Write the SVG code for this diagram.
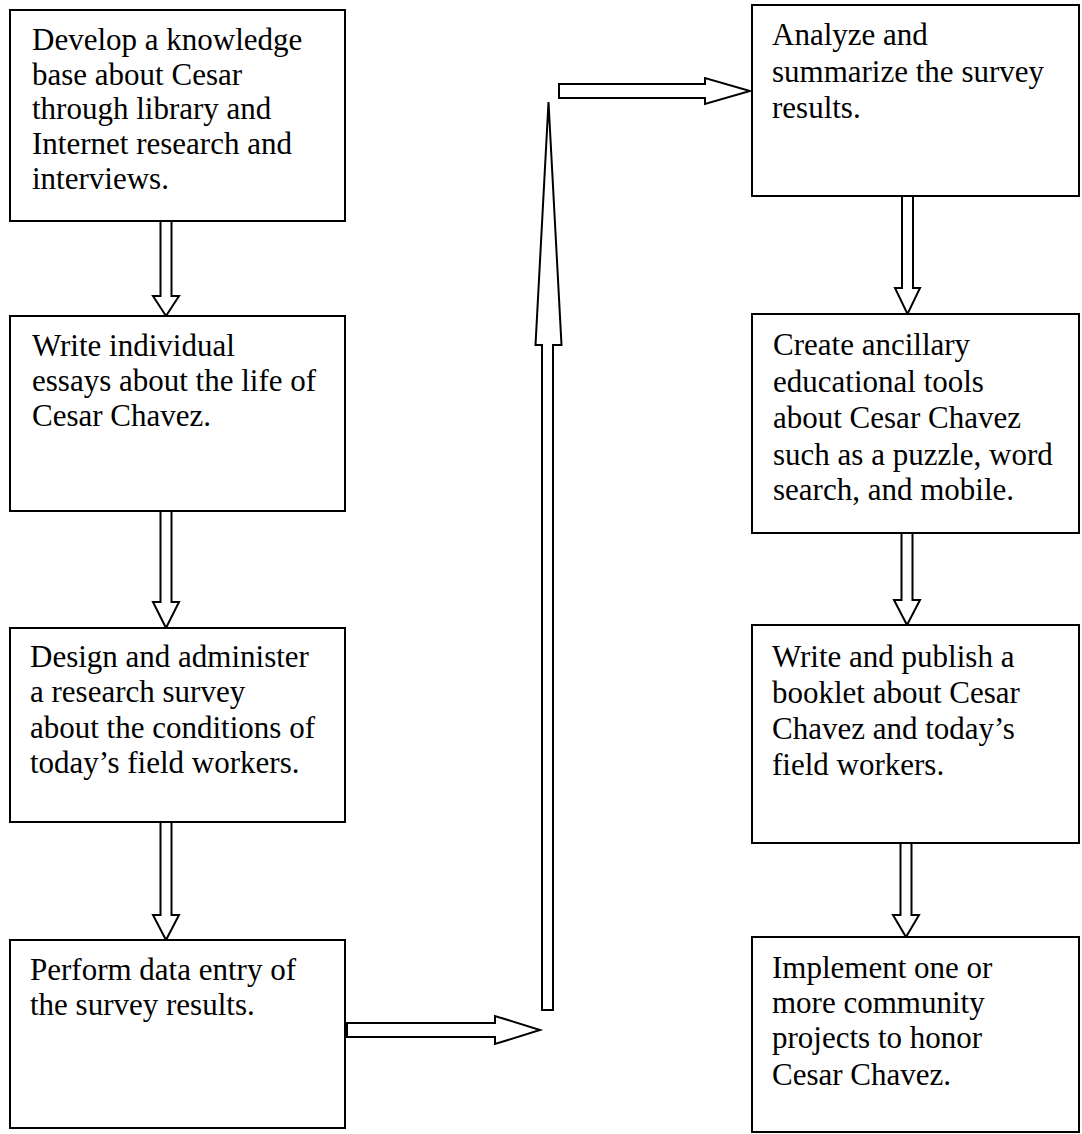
<svg xmlns="http://www.w3.org/2000/svg" width="1082" height="1134" viewBox="0 0 1082 1134">
<style>
.box{fill:#fff;stroke:#000;stroke-width:2}
.arr{fill:#fff;stroke:#000;stroke-width:2;stroke-linejoin:miter}
text{font-family:"Liberation Serif","Times New Roman",serif;font-size:31px;fill:#000}
</style>
<rect width="1082" height="1134" fill="#fff"/>
<g id="connectors">
<polygon class="arr" points="160.5,221 171.5,221 171.5,296 179,296 166,316 153,296 160.5,296"/>
<polygon class="arr" points="160.5,511 171.5,511 171.5,602 179,602 166,628 153,602 160.5,602"/>
<polygon class="arr" points="160.5,822 171.5,822 171.5,915 179,915 166,940 153,915 160.5,915"/>
<polygon class="arr" points="347,1023 495,1023 495,1016 540,1030 495,1044 495,1037 347,1037"/>
<polygon class="arr" points="542,1010 542,345 535.5,345 548.5,102 561.5,345 553,345 553,1010"/>
<polygon class="arr" points="559,84 705,84 705,78 750,91 705,104 705,98 559,98"/>
<polygon class="arr" points="902,196 913,196 913,288 920,288 907.5,314 895,288 902,288"/>
<polygon class="arr" points="901.5,533 912.5,533 912.5,600 920,600 907,625 894,600 901.5,600"/>
<polygon class="arr" points="900.5,843 911.5,843 911.5,915 919,915 906,937 893,915 900.5,915"/>
</g>
<g id="n1"><rect class="box" x="10" y="10" width="335" height="211"/>
<text x="32" y="50">Develop a knowledge</text><text x="32" y="85">base about Cesar</text><text x="32" y="119">through library and</text><text x="32" y="154">Internet research and</text><text x="32" y="189">interviews.</text></g>
<g id="n2"><rect class="box" x="10" y="316" width="335" height="195"/>
<text x="32" y="356">Write individual</text><text x="32" y="391">essays about the life of</text><text x="32" y="426">Cesar Chavez.</text></g>
<g id="n3"><rect class="box" x="10" y="628" width="335" height="194"/>
<text x="30" y="667">Design and administer</text><text x="30" y="702">a research survey</text><text x="30" y="738">about the conditions of</text><text x="30" y="773">today’s field workers.</text></g>
<g id="n4"><rect class="box" x="10" y="940" width="335" height="188"/>
<text x="30" y="980">Perform data entry of</text><text x="30" y="1015">the survey results.</text></g>
<g id="n5"><rect class="box" x="752" y="5" width="327" height="191"/>
<text x="772" y="45">Analyze and</text><text x="772" y="82">summarize the survey</text><text x="772" y="118">results.</text></g>
<g id="n6"><rect class="box" x="752" y="314" width="327" height="219"/>
<text x="773" y="355">Create ancillary</text><text x="773" y="392">educational tools</text><text x="773" y="428">about Cesar Chavez</text><text x="773" y="465">such as a puzzle, word</text><text x="773" y="500">search, and mobile.</text></g>
<g id="n7"><rect class="box" x="752" y="625" width="327" height="218"/>
<text x="772" y="667">Write and publish a</text><text x="772" y="703">booklet about Cesar</text><text x="772" y="739">Chavez and today’s</text><text x="772" y="775">field workers.</text></g>
<g id="n8"><rect class="box" x="752" y="937" width="327" height="195"/>
<text x="772" y="978">Implement one or</text><text x="772" y="1013">more community</text><text x="772" y="1048">projects to honor</text><text x="772" y="1085">Cesar Chavez.</text></g>
</svg>
